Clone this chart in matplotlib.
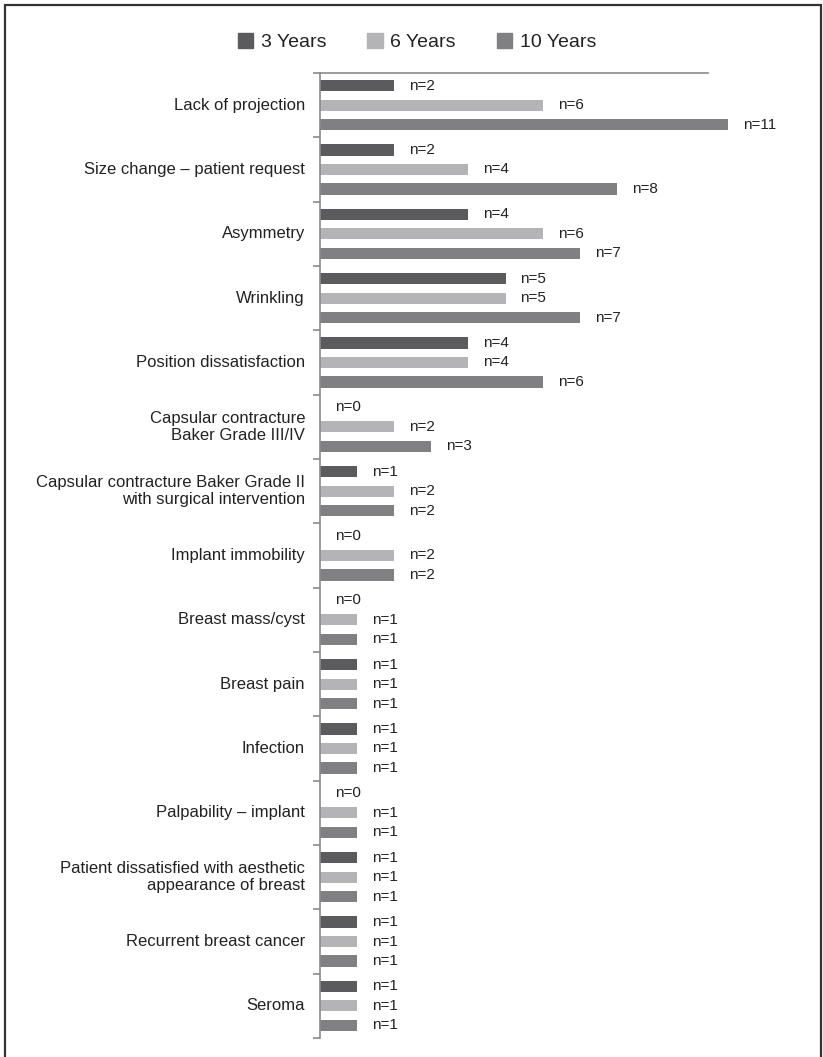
import matplotlib
matplotlib.use("Agg")
import matplotlib.pyplot as plt
from matplotlib.patches import Rectangle
from matplotlib.lines import Line2D
import numpy as np

categories = [
    "Lack of projection",
    "Size change \u2013 patient request",
    "Asymmetry",
    "Wrinkling",
    "Position dissatisfaction",
    "Capsular contracture\nBaker Grade III/IV",
    "Capsular contracture Baker Grade II\nwith surgical intervention",
    "Implant immobility",
    "Breast mass/cyst",
    "Breast pain",
    "Infection",
    "Palpability \u2013 implant",
    "Patient dissatisfied with aesthetic\nappearance of breast",
    "Recurrent breast cancer",
    "Seroma",
]
series_names = ["3 Years", "6 Years", "10 Years"]
years3 = [2, 2, 4, 5, 4, 0, 1, 0, 0, 1, 1, 0, 1, 1, 1]
years6 = [6, 4, 6, 5, 4, 2, 2, 2, 1, 1, 1, 1, 1, 1, 1]
years10 = [11, 8, 7, 7, 6, 3, 2, 2, 1, 1, 1, 1, 1, 1, 1]
colors = ["#5b5b5d", "#b4b4b6", "#808083"]

plt.rcParams['font.family'] = ['Liberation Sans Narrow', 'Liberation Sans', 'DejaVu Sans']

W, H = 823, 1057
fig = plt.figure(figsize=(W / 100, H / 100), dpi=100)

ax_left, ax_right = 320, 780
ax_top, ax_bot = 73, 1038
ax = fig.add_axes([ax_left / W, 1 - ax_bot / H, (ax_right - ax_left) / W, (ax_bot - ax_top) / H])

px_per_unit = 37.1
xmax = (ax_right - ax_left) / px_per_unit
ax.set_xlim(0, xmax)
n = len(categories)
ax.set_ylim(n - 0.5, -0.5)

y = np.arange(n)
offsets = [-0.305, 0.0, 0.305]
bar_h = 0.175
data = [years3, years6, years10]
off_units = 15 / px_per_unit
for vals, off, col in zip(data, offsets, colors):
    ax.barh(y + off, vals, height=bar_h, color=col, edgecolor='none')
    for yi, v in zip(y, vals):
        ax.text(v + off_units, yi + off, f"n={v}", va='center', ha='left',
                fontsize=11, color='#222222')

# category labels
for yi, c in zip(y, categories):
    ax.text(-15 / px_per_unit, yi, c, ha='right', va='center', fontsize=12,
            color='#222222', linespacing=1.15)

for s in ['right', 'bottom']:
    ax.spines[s].set_visible(False)
ax.spines['left'].set_color('#8a8a8a')
ax.spines['left'].set_linewidth(1.2)
ax.spines['top'].set_color('#8a8a8a')
ax.spines['top'].set_linewidth(1.2)
ax.spines['top'].set_bounds(0, (708 - ax_left) / px_per_unit)
ax.set_xticks([])
ax.set_yticks(np.arange(-0.5, n, 1.0))
ax.set_yticklabels([])
ax.tick_params(axis='y', direction='out', length=5, color='#8a8a8a', width=1.2)

# legend
handles = [Rectangle((0, 0), 1, 1, color=c) for c in colors]
leg = fig.legend(handles, series_names, loc='center', bbox_to_anchor=(417 / W, 1 - 42 / H),
                 ncol=3, frameon=False, fontsize=14, handlelength=0.78, handleheight=0.78,
                 handletextpad=0.4, columnspacing=2.1)
for t in leg.get_texts():
    t.set_color('#222222')

# border (left, top, right; open at bottom)
bx0, bx1, by0 = 4.5 / W, 821 / W, 1 - 4.5 / H
fig.add_artist(Line2D([bx0, bx0, bx1, bx1], [0, by0, by0, 0], transform=fig.transFigure,
                      color='#333333', linewidth=1.6, solid_joinstyle='miter'))

fig.savefig("out.png", dpi=100)
